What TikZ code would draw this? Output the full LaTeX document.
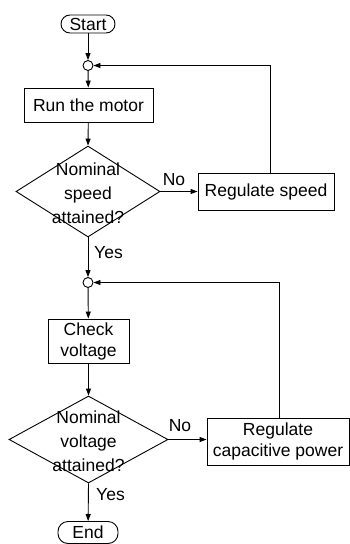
\documentclass[tikz,border=0pt]{standalone}
\usepackage{fontspec}
\setmainfont{Liberation Sans}
\usetikzlibrary{shapes.geometric,arrows.meta}
\begin{document}
\begin{tikzpicture}[x=1pt,y=-1pt,
  every node/.style={font=\fontsize{17.5}{21}\selectfont},
  lw/.style={line width=0.9pt},
  arr/.style={lw,-{Triangle[length=7pt,width=5pt]}},
  term/.style={draw,lw,rectangle,rounded corners=9pt,inner sep=0pt},
  procbox/.style={draw,lw,rectangle,inner sep=0pt,align=center},
  junc/.style={draw,lw,circle,minimum size=10pt,inner sep=0pt},
  decision/.style={draw,lw,diamond,inner sep=0pt},
  dtext/.style={align=center,font=\fontsize{17.5}{24}\selectfont},
  lbl/.style={inner sep=0pt}
]
\useasboundingbox (0,0) rectangle (350,544);
% nodes
\node[term,minimum width=54pt,minimum height=18pt] (start) at (88,24) {Start};
\node[junc] (c1) at (88,65.5) {};
\node[procbox,minimum width=129pt,minimum height=34pt] (run) at (88.5,105) {Run the motor};
\node[decision,minimum width=144pt,minimum height=91pt] (d1) at (88,191.5) {};
\node[dtext] (d1t) at (88,193) {Nominal\\speed\\attained?};
\node[procbox,minimum width=136pt,minimum height=37pt] (rs) at (266,191.5) {Regulate speed};
\node[junc] (c2) at (88,282.5) {};
\node[procbox,minimum width=81pt,minimum height=44pt] (cv) at (88.5,341) {Check\\voltage};
\node[decision,minimum width=159pt,minimum height=87pt] (d2) at (88.5,439.5) {};
\node[dtext] (d2t) at (88.5,441) {Nominal\\voltage\\attained?};
\node[procbox,minimum width=142pt,minimum height=47pt] (rc) at (278,441.5) {Regulate\\capacitive power};
\node[term,minimum width=60pt,minimum height=22pt,rounded corners=10pt] (end) at (88,532.5) {End};
% labels
\node[lbl] (no1) at (174,180) {No};
\node[lbl,anchor=west] (yes1) at (94,253) {Yes};
\node[lbl] (no2) at (180,426) {No};
\node[lbl,anchor=west] (yes2) at (96,495) {Yes};
% feedback columns
\coordinate (f1) at (270,0);
\coordinate (f2) at (279,0);
% connectors
\draw[arr] (start) -- (c1);
\draw[arr] (c1) -- (run);
\draw[arr] (run) -- (d1.north);
\draw[arr] (d1.east) -- (d1.east -| rs.west);
\draw[arr] (d1.south) -- (c2);
\draw[arr] (f1 |- rs.north) |- (c1.east);
\draw[arr] (c2) -- (cv);
\draw[arr] (cv) -- (d2.north);
\draw[arr] (d2.east) -- (d2.east -| rc.west);
\draw[arr] (d2.south) -- (end);
\draw[arr] (f2 |- rc.north) |- (c2.east);
\end{tikzpicture}
\end{document}
